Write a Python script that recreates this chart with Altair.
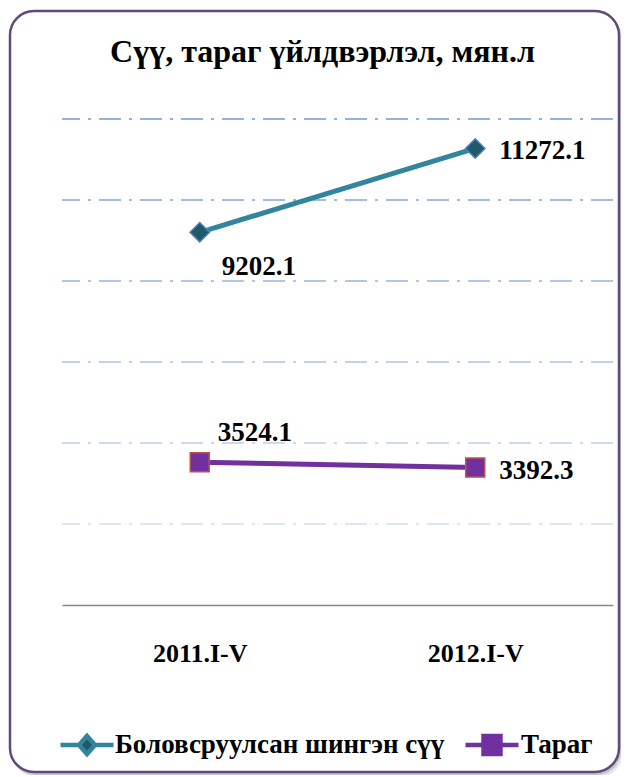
import altair as alt
import pandas as pd

# ---- data ----
periods = ["2011.I-V", "2012.I-V"]
series_names = ["Боловсруулсан шингэн сүү", "Тараг"]
milk_values = [9202.1, 11272.1]
tarag_values = [3524.1, 3392.3]
grid_values = [2000, 4000, 6000, 8000, 10000, 12000]
title_text = "Сүү, тараг үйлдвэрлэл, мян.л"

MILK, TARAG = series_names
rows = []
for p, v in zip(periods, milk_values):
    rows.append({"period": p, "series": MILK, "value": v, "label": f"{v:.1f}"})
for p, v in zip(periods, tarag_values):
    rows.append({"period": p, "series": TARAG, "value": v, "label": f"{v:.1f}"})
df = pd.DataFrame(rows)
grid_df = pd.DataFrame({"g": grid_values})
frame_df = pd.DataFrame({"k": [0]})
legend_df = pd.DataFrame({"series": series_names})

FONT = "Liberation Serif"
W, H = 551, 486

x_enc = alt.X("period:N", sort=periods, scale=alt.Scale(padding=0.5),
              axis=alt.Axis(title=None, labelAngle=0, ticks=False, grid=False,
                            domainColor="#868686", domainWidth=1.5,
                            labelFont=FONT, labelFontSize=26, labelFontWeight="bold",
                            labelColor="#000000", labelPadding=35, zindex=1))
y_scale = alt.Scale(domain=[0, 12000], nice=False, zero=True)
y_enc = alt.Y("value:Q", scale=y_scale, axis=None)

# decorative frame with soft shadow
shadow2 = alt.Chart(frame_df).mark_rect(cornerRadius=24, fill="#d9d9d9", opacity=0.6).encode(
    x=alt.value(-49), x2=alt.value(561), y=alt.value(-104), y2=alt.value(658))
shadow1 = alt.Chart(frame_df).mark_rect(cornerRadius=24, fill="#b8b8b8", opacity=0.7).encode(
    x=alt.value(-51), x2=alt.value(559), y=alt.value(-106), y2=alt.value(656))
frame = alt.Chart(frame_df).mark_rect(cornerRadius=24, fill="#ffffff", stroke="#604a7b",
                                      strokeWidth=2.5).encode(
    x=alt.value(-52), x2=alt.value(557), y=alt.value(-108), y2=alt.value(653))

grid = alt.Chart(grid_df).mark_rule(strokeDash=[22, 8, 3, 8], strokeWidth=2,
                                    color="#94b2df").encode(
    y=alt.Y("g:Q", scale=y_scale, axis=None),
    opacity=alt.Opacity("g:Q", scale=alt.Scale(domain=[2000, 12000], range=[0.33, 1.0]),
                        legend=None),
)

lines = alt.Chart(df).mark_line(strokeWidth=5).encode(
    x=x_enc, y=y_enc,
    color=alt.Color("series:N", sort=series_names,
                    scale=alt.Scale(domain=series_names, range=["#31859c", "#7030a0"]),
                    legend=None),
)

milk_pts = alt.Chart(df).transform_filter(alt.datum.series == MILK).mark_point(
    shape="diamond", filled=True, size=380, fill="#215968", stroke="#4f81bd",
    strokeWidth=1.5, opacity=1).encode(x=x_enc, y=y_enc)
tarag_pts = alt.Chart(df).transform_filter(alt.datum.series == TARAG).mark_point(
    shape="square", filled=True, size=360, fill="#7030a0", stroke="#c0504d",
    strokeWidth=1.5, opacity=1).encode(x=x_enc, y=y_enc)

txt = dict(font=FONT, fontSize=27, fontWeight="bold", color="#000000", align="left",
           baseline="middle")
lab_2012 = alt.Chart(df).transform_filter(alt.datum.period == periods[1]).mark_text(
    dx=24, dy=3, **txt).encode(x=x_enc, y=y_enc, text="label:N")
lab_milk_2011 = alt.Chart(df).transform_filter(
    (alt.datum.period == periods[0]) & (alt.datum.series == MILK)).mark_text(
    dx=22, dy=35, **txt).encode(x=x_enc, y=y_enc, text="label:N")
lab_tarag_2011 = alt.Chart(df).transform_filter(
    (alt.datum.period == periods[0]) & (alt.datum.series == TARAG)).mark_text(
    dx=18, dy=-29, **txt).encode(x=x_enc, y=y_enc, text="label:N")

# ---- legend (line + marker symbol, label) ----
milk_sym = "M-1,0H-0.3M0.3,0H1M0,-0.34L0.3,0L0,0.34L-0.3,0Z"
tarag_sym = "M-1,0H-0.32M0.32,0H1M-0.32,-0.34H0.32V0.34H-0.32Z"
LEG_Y = 626
leg_txt = dict(font=FONT, fontSize=27, fontWeight="bold", color="#000000",
               align="left", baseline="middle")

leg_milk_line = alt.Chart(legend_df).transform_filter(alt.datum.series == MILK).mark_point(
    shape=milk_sym, size=2809, filled=True, fill="#215968", stroke="#31859c",
    strokeWidth=4.5, opacity=1).encode(x=alt.value(25), y=alt.value(LEG_Y))
leg_milk_text = alt.Chart(legend_df).transform_filter(alt.datum.series == MILK).mark_text(
    **leg_txt).encode(x=alt.value(53), y=alt.value(LEG_Y), text="series:N")
leg_tarag_line = alt.Chart(legend_df).transform_filter(alt.datum.series == TARAG).mark_point(
    shape=tarag_sym, size=2809, filled=True, fill="#7030a0", stroke="#7030a0",
    strokeWidth=4.5, opacity=1).encode(x=alt.value(430), y=alt.value(LEG_Y))
leg_tarag_text = alt.Chart(legend_df).transform_filter(alt.datum.series == TARAG).mark_text(
    **leg_txt).encode(x=alt.value(459), y=alt.value(LEG_Y), text="series:N")

chart = alt.layer(
    shadow2, shadow1, frame, grid, lines, milk_pts, tarag_pts,
    lab_2012, lab_milk_2011, lab_tarag_2011,
    leg_milk_line, leg_milk_text, leg_tarag_line, leg_tarag_text,
).properties(
    width=W, height=H,
    title=alt.Title(title_text, anchor="middle", frame="group", dx=-15, offset=-59,
                    font=FONT, fontSize=32, fontWeight="bold", color="#000000"),
    autosize=alt.AutoSizeParams(type="none"),
    padding={"left": 54, "top": 111, "right": 8, "bottom": 170},
).configure_view(stroke=None).configure(background="#ffffff")

chart.save("out.html", embed_options={"renderer": "svg", "actions": False})
